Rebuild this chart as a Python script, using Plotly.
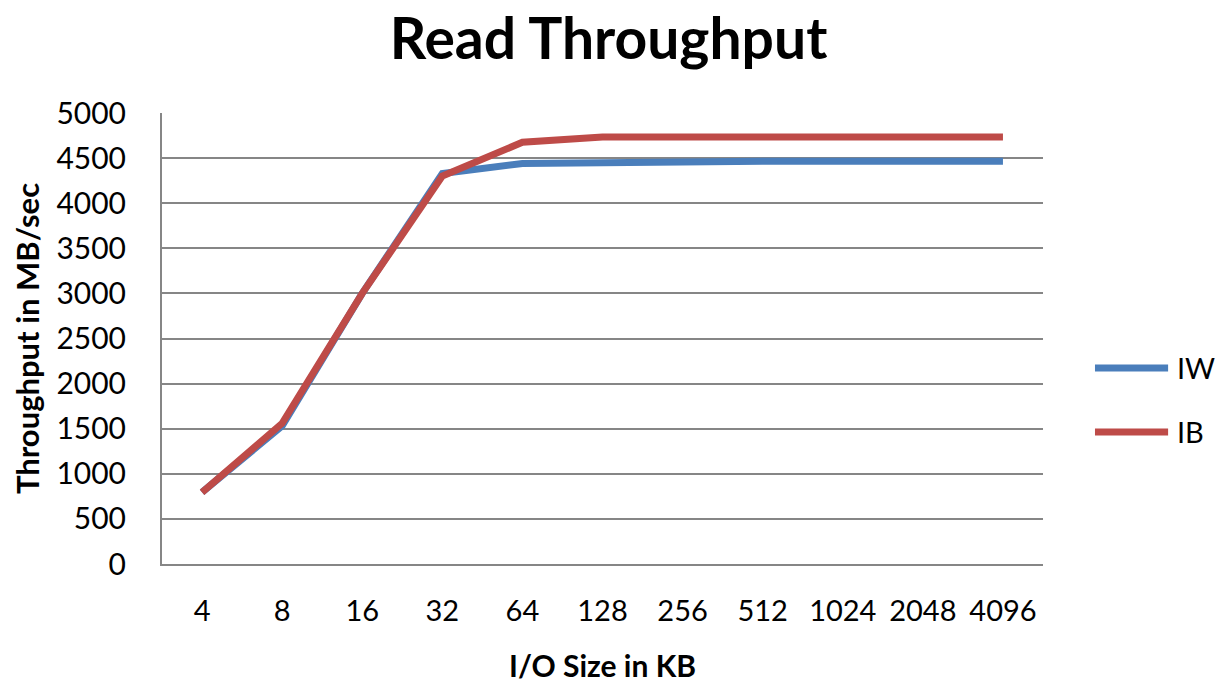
import plotly.graph_objects as go

categories = ["4", "8", "16", "32", "64", "128", "256", "512", "1024", "2048", "4096"]
iw_values = [795, 1530, 3000, 4330, 4440, 4450, 4465, 4465, 4465, 4465, 4465]
ib_values = [795, 1560, 3000, 4300, 4675, 4735, 4735, 4735, 4735, 4735, 4735]
y_ticks = [0, 500, 1000, 1500, 2000, 2500, 3000, 3500, 4000, 4500, 5000]
series_names = ["IW", "IB"]
series_colors = ["#4A7EBB", "#BE4B48"]

FONT = "Lato"
GRID = "#868686"

fig = go.Figure()
for name, vals, col in zip(series_names, [iw_values, ib_values], series_colors):
    fig.add_trace(go.Scatter(x=categories, y=vals, name=name, mode="lines",
                             line=dict(color=col, width=7), showlegend=False))

# manual legend (outside the plot area, paper coordinates)
legend_y = [0.4346, 0.2927]
for name, col, ly in zip(series_names, series_colors, legend_y):
    fig.add_shape(type="line", xref="paper", yref="paper", x0=1.059, x1=1.142,
                  y0=ly, y1=ly, line=dict(color=col, width=7))
    fig.add_annotation(xref="paper", yref="paper", x=1.150, y=ly, text=name,
                       showarrow=False, xanchor="left", yanchor="middle",
                       font=dict(size=29, family=FONT, color="black"))

fig.add_annotation(xref="paper", yref="paper", x=0.5, y=-0.224,
                   text="<b>I/O Size in KB</b>", showarrow=False,
                   xanchor="center", yanchor="middle",
                   font=dict(size=30, family=FONT, color="black"))

fig.update_layout(
    width=1217, height=683,
    margin=dict(l=162, r=174, t=113, b=119),
    paper_bgcolor="white", plot_bgcolor="white",
    font=dict(family=FONT, color="black"),
    title=dict(text="<b>Read Throughput</b>", x=0.5, xanchor="center",
               y=0.943, yanchor="middle", font=dict(size=57, family=FONT)),
    showlegend=False,
    xaxis=dict(type="category", range=[-0.5, 10.5], showgrid=False,
               showline=True, linecolor=GRID, linewidth=2,
               ticks="", tickfont=dict(size=29, family=FONT),
               ticklabelstandoff=20),
    yaxis=dict(range=[0, 5000], tickvals=y_ticks, showgrid=True, gridcolor=GRID,
               gridwidth=2, showline=True, linecolor=GRID, linewidth=2,
               zeroline=False, ticks="", tickfont=dict(size=30, family=FONT),
               ticklabelstandoff=28,
               title=dict(text="<b>Throughput in MB/sec</b>", font=dict(size=31, family=FONT),
                          standoff=8)),
)

fig.write_html("out.html")
